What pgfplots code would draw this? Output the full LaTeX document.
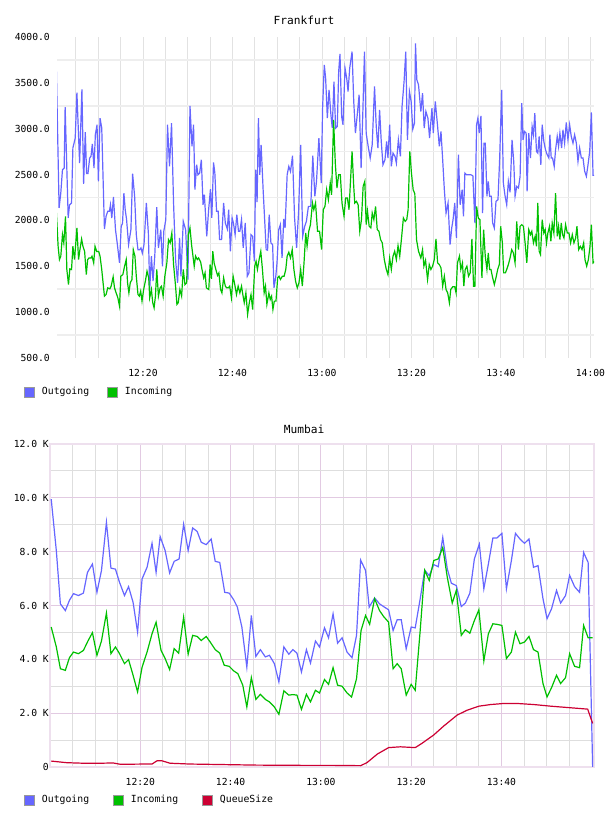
\documentclass[border=0pt]{standalone}
\usepackage{pgfplots}
\pgfplotsset{compat=1.18}
\usepackage{fontspec}
\setmainfont{DejaVu Sans Mono}
\definecolor{cout}{RGB}{102,102,255}
\definecolor{cin}{RGB}{0,192,0}
\definecolor{cq}{RGB}{204,0,51}
\definecolor{gridv}{RGB}{226,226,226}
\definecolor{gridh}{RGB}{238,238,238}
\definecolor{pinkg}{RGB}{226,202,226}
\definecolor{grayg}{RGB}{222,222,222}
\definecolor{framec}{RGB}{238,224,238}
\begin{document}
\begin{tikzpicture}[x=1pt,y=1pt]
\useasboundingbox (0,0) rectangle (608,816);
%================ Frankfurt =================
\begin{axis}[
  at={(57pt,458pt)}, anchor=south west,
  scale only axis, width=537pt, height=321pt,
  xmin=0.78, xmax=120.8, ymin=500, ymax=4000,
  font=\fontsize{9.7}{11}\selectfont,
  axis line style={draw=none}, tick style={draw=none},
  major tick length=0pt, minor tick length=0pt,
  xtick={20,40,60,80,100,120},
  xticklabels={12:20,12:40,13:00,13:20,13:40,14:00},
  minor xtick={5,10,15,25,30,35,45,50,55,65,70,75,85,90,95,105,110,115},
  ytick={500,1000,...,4000},
  yticklabels={500.0,1000.0,1500.0,2000.0,2500.0,3000.0,3500.0,4000.0},
  minor ytick={750,1250,...,3750},
  xmajorgrids, xminorgrids, yminorgrids,
  major x grid style={draw=gridv, line width=0.9pt},
  minor x grid style={draw=gridv, line width=0.9pt},
  minor y grid style={draw=gridh, line width=1.6pt},
  xticklabel style={anchor=center, yshift=-15pt, inner sep=0pt},
  yticklabel style={anchor=east, inner sep=0pt, xshift=-7pt},
  title={Frankfurt},
  title style={at={(axis description cs:0.46,1.034)}, anchor=center, font=\fontsize{11.2}{13}\selectfont},
  legend style={at={(axis description cs:-0.0615,-0.106)}, anchor=west, draw=none, fill=none,
    inner sep=0pt, legend columns=-1, font=\fontsize{9.8}{11}\selectfont,
    /tikz/every odd column/.append style={column sep=5pt},
    /tikz/every even column/.append style={column sep=16pt}},
]
\addplot[cout, line width=1.2pt, forget plot] table {
0.65 3623
1.25 2136
1.63 2300
2.0 2553
2.38 2570
2.6 3235
3.28 2027
3.58 2170
4.03 2190
4.33 2790
4.85 2897
5.23 3394
5.83 2625
6.35 3430
6.73 2400
7.1 2963
7.4 2510
7.7 2510
8.08 2680
8.38 2700
8.68 2835
9.05 2570
9.35 2935
9.73 3043
10.03 2425
10.4 3115
10.78 3007
11.38 1907
11.75 2045
12.13 2100
12.5 2100
12.73 2170
13.03 2027
13.4 2255
13.85 1900
14.23 1755
14.75 1537
15.13 1935
15.43 1970
15.73 2297
16.03 2115
16.33 2010
16.78 1737
17.3 1900
17.68 2510
18.13 2263
18.5 1845
18.88 1680
19.25 1680
19.55 1700
19.85 1643
20.23 1737
20.75 2190
21.2 1860
21.5 1247
21.88 1610
22.25 1338
22.63 1610
23.08 2146
23.45 1700
23.98 1900
24.35 1500
24.65 1882
25.1 2010
25.48 3043
25.93 2590
26.38 3060
26.83 2190
27.28 1573
27.73 1320
28.18 1810
28.48 1390
29.0 1990
29.53 1900
30.05 1355
30.5 3250
30.95 2808
31.3 3043
31.6 2335
32.0 2607
32.28 2498
32.66 2516
33.04 2661
33.42 2171
33.72 2280
34.25 1827
34.7 2135
35.08 2342
35.38 2027
35.76 2632
36.06 2516
36.44 2099
36.81 2099
37.12 1791
37.57 1791
38.02 2190
38.4 1972
38.85 1907
39.15 2117
39.53 1664
39.91 2027
40.21 1972
40.59 1845
40.97 2063
41.34 1882
41.65 1882
42.02 2009
42.4 1700
42.85 1972
43.31 1392
43.68 1428
44.14 1845
44.51 1827
44.89 1555
45.19 2553
45.5 2201
45.8 3115
46.1 2498
46.4 2824
46.85 2335
47.53 1682
47.84 1675
48.21 2063
48.59 1755
48.97 1737
49.27 1265
49.65 1374
49.95 1537
50.33 1900
50.7 1954
51.08 1592
51.46 2017
51.76 1918
52.22 2498
52.59 2589
52.97 2534
53.42 2705
53.88 2027
54.33 1700
54.78 2099
55.24 2824
55.69 1827
56.14 1936
56.52 1990
56.97 2153
57.5 2153
57.95 2705
58.41 2263
58.78 2426
59.31 2897
59.84 2408
60.14 3224
60.52 3696
60.82 3550
61.2 3115
61.58 3424
62.0 3151
62.3 3006
62.68 3514
63.05 3006
63.43 3024
63.73 3623
64.03 3815
64.4 3133
64.7 3043
65.15 3660
65.53 3551
65.83 3406
66.2 3660
66.73 3841
67.1 3297
67.48 2952
67.85 3133
68.3 3370
68.75 2571
69.13 3170
69.5 3841
69.88 2952
70.33 2807
70.78 2680
71.23 2825
71.75 3460
72.13 3024
72.5 2789
72.88 3206
73.25 2861
73.63 2607
74.08 2661
74.45 2861
74.75 2680
75.13 3043
75.5 2589
75.88 2734
76.33 2698
76.63 2625
77.08 2879
77.53 2698
77.9 3242
78.35 3514
78.73 3841
79.1 2879
79.55 3406
79.93 3297
80.3 2995
80.68 3061
80.9 3931
81.2 3533
81.58 3478
82.1 3188
82.48 3388
82.85 3006
83.23 3188
83.68 3115
84.05 2897
84.58 3224
84.88 2952
85.33 3297
85.78 3061
86.23 2807
86.6 2970
86.98 2661
87.35 2335
87.73 2081
88.18 2190
88.63 1736
89.0 1918
89.3 2009
89.68 2190
90.05 1809
90.5 2716
90.88 2171
91.33 2335
91.63 2045
91.94 2516
92.31 2498
92.76 2498
93.28 2498
93.73 2487
94.18 1972
94.56 3043
94.85 3115
95.15 2952
95.53 3140
95.9 2081
96.2 2843
96.5 2843
96.87 2263
97.17 2426
97.47 2263
97.85 2263
98.15 1972
98.52 1918
98.89 2208
99.34 2226
99.72 2680
100.17 3424
100.54 2408
100.91 2270
101.29 2171
101.66 2426
102.04 2306
102.48 2879
102.86 2643
103.16 2263
103.53 2371
103.91 2353
104.28 2480
104.65 3279
104.95 2879
105.25 2970
105.63 2952
105.85 2317
106.22 2952
106.6 2680
106.97 3024
107.27 2934
107.57 3170
107.94 2752
108.24 2734
108.54 2915
108.92 2607
109.22 3043
109.59 2861
109.96 2770
110.34 2716
110.71 2680
110.94 2934
111.24 2680
111.54 2680
111.91 2589
112.21 2770
112.58 2915
112.88 2807
113.18 2952
113.56 2789
113.86 2988
114.23 2843
114.6 3068
114.98 2879
115.35 3043
115.72 2915
116.1 2843
116.47 2934
116.85 2843
117.22 2643
117.59 2789
117.97 2680
118.34 2680
118.72 2534
119.09 2480
119.46 2607
119.84 2752
120.21 3177
120.59 2491
120.96 2491
};
\addplot[cin, line width=1.2pt, forget plot] table {
0.65 2081
1.03 1718
1.33 1573
1.63 1610
2.0 1845
2.3 1755
2.68 2045
2.98 1465
3.35 1300
3.65 1472
4.03 1465
4.33 1718
4.7 1573
5.23 1918
5.6 1573
5.9 1680
6.28 1797
6.58 1718
6.95 1662
7.33 1410
7.63 1573
7.93 1590
8.38 1590
8.6 1610
8.98 1537
9.28 1718
9.65 1662
10.1 1662
10.4 1610
10.78 1465
11.38 1174
11.75 1192
12.13 1265
12.58 1254
12.88 1283
13.33 1385
13.63 1265
14.0 1210
14.38 1156
14.75 1065
15.05 1392
15.5 1410
15.88 1500
16.25 1573
16.55 1320
16.85 1210
17.15 1320
17.53 1355
17.83 1680
18.2 1610
18.5 1392
18.88 1192
19.18 1174
19.48 1229
19.78 1120
20.15 1247
20.53 1338
20.9 1446
21.28 1374
21.5 1156
21.88 1247
22.18 1102
22.48 1047
22.78 1174
23.08 1465
23.45 1174
23.83 1265
24.13 1283
24.5 1174
24.88 1392
25.33 1537
25.7 1791
26.08 1755
26.45 1863
26.83 1519
27.28 1283
27.58 1084
27.88 1102
28.25 1247
28.63 1174
29.0 1465
29.38 1300
29.75 1320
30.13 1845
30.5 1918
30.88 1725
31.45 1500
31.75 1610
32.13 1573
32.43 1591
32.89 1545
33.19 1465
33.57 1374
33.87 1428
34.17 1265
34.7 1247
35.0 1519
35.3 1363
35.6 1664
35.9 1537
36.28 1465
36.66 1400
36.96 1428
37.34 1247
37.64 1210
38.02 1374
38.4 1283
38.7 1265
39.08 1265
39.38 1283
39.76 1156
40.14 1392
40.51 1301
40.89 1192
41.27 1283
41.65 1210
42.02 1283
42.25 1210
42.63 1102
43.0 1210
43.38 975
43.76 1102
44.14 1192
44.51 1029
44.97 1500
45.27 1555
45.57 1465
45.95 1573
46.33 1664
46.7 1465
47.08 1210
47.38 1283
47.69 1084
48.14 1210
48.44 1138
48.74 1174
49.04 1029
49.35 1120
49.72 1120
50.1 1374
50.4 1392
50.71 1356
51.16 1392
51.54 1392
51.91 1465
52.22 1610
52.59 1653
52.97 1591
53.35 1682
53.73 1465
54.1 1338
54.48 1265
54.86 1320
55.24 1465
55.61 1283
55.99 1537
56.37 1863
56.67 1718
57.05 1882
57.42 1954
57.88 2190
58.18 2117
58.56 2190
59.01 1882
59.46 1882
59.92 1682
60.29 2117
60.67 2153
61.05 2335
61.43 2226
61.85 2408
62.15 2280
62.6 3097
62.98 2625
63.35 2353
63.73 2498
64.1 2498
64.48 2190
64.93 2045
65.3 2244
65.68 2244
66.05 2117
66.35 2408
66.73 2752
67.1 2371
67.33 2190
67.7 2208
68.08 2171
68.45 1882
68.83 2009
69.2 2371
69.58 2426
69.88 1954
70.18 2099
70.55 1936
70.93 1918
71.23 2081
71.6 2009
71.98 2153
72.35 1900
72.73 1882
73.1 1791
73.48 1755
73.93 1573
74.38 1465
74.75 1410
75.13 1591
75.5 1465
75.88 1610
76.25 1664
76.63 1573
77.0 1725
77.38 1610
77.75 1791
78.2 2027
78.58 1990
78.95 2009
79.25 2117
79.63 2752
80.0 2516
80.38 2335
80.75 2292
81.13 1791
81.58 1664
82.1 1591
82.48 1682
82.78 1501
83.15 1566
83.6 1356
83.98 1519
84.35 1465
84.73 1501
85.1 1573
85.48 1798
85.85 1537
86.23 1519
86.6 1483
86.98 1283
87.35 1392
87.73 1247
88.1 1210
88.48 1102
88.78 1247
89.23 1276
89.68 1276
89.98 1210
90.28 1537
90.73 1610
91.03 1465
91.4 1537
91.71 1283
92.01 1465
92.39 1501
92.76 1392
93.13 1428
93.51 1798
93.88 1283
94.18 1283
94.56 2153
94.93 2027
95.3 2009
95.75 1374
96.13 1900
96.5 1610
96.87 1465
97.17 1646
97.47 1465
97.77 1465
98.15 1374
98.52 1301
98.89 1374
99.27 1465
99.64 1519
99.94 1936
100.32 1755
100.61 1428
100.99 1428
101.29 1465
101.66 1519
102.04 1591
102.41 1682
102.78 1646
103.16 1537
103.53 1990
103.91 1682
104.28 1936
104.65 1954
105.03 1936
105.4 1755
105.78 1537
106.22 1900
106.6 1845
106.9 1882
107.27 1755
107.65 1827
107.94 1718
108.24 2190
108.54 1664
108.84 1628
109.22 2009
109.59 1863
109.89 1900
110.19 1755
110.49 1863
110.86 1936
111.16 1773
111.46 1972
111.83 1863
112.21 2298
112.58 1827
112.88 1936
113.18 1791
113.48 1972
113.78 1845
114.08 1809
114.45 1954
114.83 1863
115.2 1863
115.57 1755
115.95 1845
116.32 1755
116.7 1809
116.99 1936
117.37 1682
117.74 1718
118.12 1682
118.49 1755
118.79 1573
119.16 1501
119.54 1573
119.91 1718
120.21 1954
120.59 1537
120.96 1555
};
\addlegendimage{legend image code/.code={\draw[draw=gray!80, fill=cout, line width=0.8pt] (0pt,-5pt) rectangle (10pt,5pt);}}
\addlegendentry{Outgoing}
\addlegendimage{legend image code/.code={\draw[draw=gray!80, fill=cin, line width=0.8pt] (0pt,-5pt) rectangle (10pt,5pt);}}
\addlegendentry{Incoming}
\end{axis}
%================ Mumbai =================
\begin{axis}[
  at={(50pt,49pt)}, anchor=south west,
  scale only axis, width=544pt, height=323pt,
  xmin=0, xmax=120.5, ymin=0, ymax=12,
  font=\fontsize{9.7}{11}\selectfont,
  axis line style={draw=framec, line width=2pt}, tick style={draw=none},
  major tick length=0pt, minor tick length=0pt,
  xtick={20,40,60,80,100},
  xticklabels={12:20,12:40,13:00,13:20,13:40},
  minor xtick={5,10,15,25,30,35,45,50,55,65,70,75,85,90,95,105,110,115},
  ytick={0,2,...,12},
  yticklabels={0,2.0 K,4.0 K,6.0 K,8.0 K,10.0 K,12.0 K},
  minor ytick={1,3,...,11},
  grid=both,
  major grid style={draw=pinkg, line width=0.9pt},
  minor grid style={draw=grayg, line width=0.9pt},
  xticklabel style={anchor=center, yshift=-15pt, inner sep=0pt},
  yticklabel style={anchor=east, inner sep=0pt, xshift=-1pt},
  title={Mumbai},
  title style={at={(axis description cs:0.467,1.0275)}, anchor=center, font=\fontsize{11.2}{13}\selectfont},
  legend style={at={(axis description cs:-0.0478,-0.102)}, anchor=west, draw=none, fill=none,
    inner sep=0pt, legend columns=-1, font=\fontsize{9.8}{11}\selectfont,
    /tikz/every odd column/.append style={column sep=5pt},
    /tikz/every even column/.append style={column sep=22pt}},
]
\addplot[cout, line width=1.2pt, forget plot] table {
0.27 9.95
1.4 8.04
2.3 6.06
3.4 5.81
4.3 6.19
5.2 6.44
6.3 6.37
7.4 6.46
8.3 7.23
9.4 7.54
10.4 6.49
11.4 7.30
12.5 9.09
13.5 7.39
14.5 7.35
15.4 6.86
16.5 6.37
17.4 6.70
18.4 6.12
19.4 5.01
20.4 6.99
21.5 7.42
22.6 8.31
23.5 7.23
24.4 8.56
25.5 8.04
26.5 7.21
27.5 7.64
28.6 7.73
29.6 9.02
30.6 8.04
31.6 8.88
32.6 8.75
33.5 8.35
34.6 8.26
35.7 8.47
36.6 7.64
37.6 7.60
38.7 6.49
39.7 6.46
40.7 6.21
41.5 5.94
42.5 5.20
43.6 3.71
44.6 5.63
45.6 4.11
46.6 4.36
47.7 4.09
48.6 4.15
49.7 3.84
50.7 3.16
51.8 4.46
52.9 4.19
53.8 4.36
54.7 4.23
55.7 3.53
56.8 4.36
57.7 3.86
58.8 4.68
59.7 4.46
60.8 5.17
61.7 4.80
62.7 5.69
63.7 4.60
64.7 4.80
65.8 4.27
66.9 4.06
67.9 4.89
68.8 7.69
69.9 7.30
70.7 5.94
71.9 6.28
73.0 6.06
73.9 5.96
75.0 5.84
76.0 5.07
76.9 5.47
77.8 5.47
78.9 4.39
80.0 5.20
80.9 5.17
82.0 6.25
83.0 7.31
84.0 7.11
85.0 7.52
86.0 7.44
87.0 8.53
88.0 7.36
88.9 6.83
90.0 6.74
91.1 5.96
92.0 6.09
93.0 6.46
94.0 7.73
95.1 8.28
96.1 6.62
97.1 7.54
98.1 8.51
99.0 8.51
100.1 8.68
101.1 6.62
102.2 7.67
103.1 8.68
104.1 8.47
105.1 8.31
106.1 8.47
107.1 7.42
108.1 7.48
109.2 6.25
110.1 5.51
111.1 5.88
112.2 6.56
113.1 6.09
114.2 6.37
115.1 7.12
116.2 6.70
117.3 6.49
118.2 7.97
119.2 7.60
120.2 0.00
};
\addplot[cin, line width=1.2pt, forget plot] table {
0.27 5.20
1.4 4.46
2.3 3.65
3.4 3.59
4.3 4.06
5.2 4.27
6.3 4.21
7.4 4.33
8.4 4.68
9.4 4.99
10.4 4.15
11.4 4.68
12.5 5.72
13.5 4.21
14.5 4.46
15.4 4.21
16.5 3.84
17.4 3.99
18.4 3.41
19.4 2.79
20.4 3.71
21.5 4.27
22.6 4.95
23.5 5.38
24.6 4.33
25.5 4.03
26.5 3.62
27.5 4.40
28.5 4.23
29.6 5.57
30.6 4.19
31.6 4.89
32.6 4.85
33.5 4.70
34.6 4.85
35.5 4.64
36.6 4.36
37.6 4.23
38.6 3.78
39.7 3.74
40.7 3.57
41.6 3.47
42.7 3.04
43.6 2.23
44.6 3.32
45.6 2.51
46.6 2.70
47.7 2.51
48.6 2.42
49.7 2.23
50.7 1.96
51.8 2.83
52.9 2.67
53.8 2.69
54.7 2.67
55.7 2.14
56.8 2.70
57.7 2.42
58.8 2.85
59.7 2.75
60.8 3.25
61.7 3.07
62.7 3.69
63.7 3.04
64.7 3.00
65.8 2.75
66.8 2.60
67.9 3.28
68.9 5.07
69.9 5.63
70.8 5.30
71.9 6.25
73.0 5.81
73.9 5.59
75.0 5.38
76.0 3.65
76.9 3.84
77.8 3.65
78.9 2.67
80.0 3.07
80.9 2.85
82.0 5.07
83.0 7.31
84.0 6.93
85.0 7.67
86.0 7.73
87.0 8.16
88.0 7.05
89.1 6.09
90.0 6.56
91.1 4.89
92.0 5.10
93.0 4.97
94.0 5.44
95.0 5.84
96.1 3.94
97.1 4.95
98.1 5.32
99.0 5.30
100.1 5.26
101.1 4.03
102.2 4.27
103.1 5.01
104.1 4.58
105.1 4.64
106.1 4.85
107.1 4.36
108.1 4.27
109.2 3.10
110.1 2.60
111.1 2.95
112.2 3.41
113.1 3.10
114.2 3.32
115.1 4.21
116.2 3.74
117.3 3.69
118.2 5.26
119.2 4.80
120.2 4.80
};
\addplot[cq, line width=1.2pt, forget plot] table {
0.27 0.22
3.7 0.16
7.4 0.14
11.2 0.14
14.0 0.15
15.6 0.10
21.0 0.11
22.6 0.11
23.7 0.23
24.8 0.23
26.6 0.14
31.0 0.11
38.4 0.09
45.8 0.07
56.9 0.06
62.8 0.06
68.8 0.05
70.2 0.16
72.5 0.48
75.0 0.72
77.6 0.75
80.9 0.72
82.4 0.88
85.0 1.19
87.2 1.52
90.2 1.93
92.4 2.11
95.0 2.26
97.6 2.32
100.5 2.36
103.5 2.36
107.2 2.32
110.9 2.26
114.6 2.21
119.1 2.15
120.2 1.62
};
\addlegendimage{legend image code/.code={\draw[draw=gray!80, fill=cout, line width=0.8pt] (0pt,-5pt) rectangle (10pt,5pt);}}
\addlegendentry{Outgoing}
\addlegendimage{legend image code/.code={\draw[draw=gray!80, fill=cin, line width=0.8pt] (0pt,-5pt) rectangle (10pt,5pt);}}
\addlegendentry{Incoming}
\addlegendimage{legend image code/.code={\draw[draw=gray!80, fill=cq, line width=0.8pt] (0pt,-5pt) rectangle (10pt,5pt);}}
\addlegendentry{QueueSize}
\end{axis}
\end{tikzpicture}
\end{document}
